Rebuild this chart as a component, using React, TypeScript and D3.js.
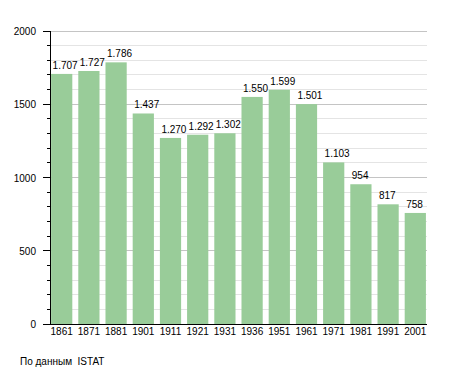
import React, { useRef, useEffect } from "react";
import * as d3 from "d3";

const years = ["1861", "1871", "1881", "1901", "1911", "1921", "1931", "1936", "1951", "1961", "1971", "1981", "1991", "2001"];
const population = [1707, 1727, 1786, 1437, 1270, 1292, 1302, 1550, 1599, 1501, 1103, 954, 817, 758];
const yTicks = [0, 500, 1000, 1500, 2000];
const sourceNote = "По данным  ISTAT";

const App: React.FC = () => {
  const svgRef = useRef<SVGSVGElement | null>(null);

  useEffect(() => {
    if (!svgRef.current) return;
    const svg = d3.select(svgRef.current);
    svg.selectAll("*").remove();

    const left = 50;
    const right = 427;
    const top = 31;
    const bottom = 324;
    const font = "Liberation Sans, Arial, sans-serif";
    const fs = 10;

    const x = d3
      .scaleBand<string>()
      .domain(years)
      .range([left, right])
      .paddingInner(0.22)
      .paddingOuter(0.04);
    const y = d3.scaleLinear().domain([0, 2000]).range([bottom, top]);

    // gridlines every 100, darker at 500
    const minor = d3.range(100, 2001, 100);
    svg
      .append("g")
      .selectAll("line")
      .data(minor)
      .enter()
      .append("line")
      .attr("x1", left)
      .attr("x2", right)
      .attr("y1", (d) => y(d))
      .attr("y2", (d) => y(d))
      .attr("stroke", (d) => (d % 500 === 0 ? "#c4c4c4" : "#e4e4e4"))
      .attr("stroke-width", 1)
      .attr("shape-rendering", "crispEdges");

    // bars
    svg
      .append("g")
      .selectAll("rect")
      .data(population)
      .enter()
      .append("rect")
      .attr("x", (d, i) => x(years[i]) as number)
      .attr("y", (d) => y(d))
      .attr("width", x.bandwidth())
      .attr("height", (d) => bottom - y(d))
      .attr("fill", "#99cc99");

    // value labels
    const fmt = d3.formatLocale({ decimal: ",", thousands: ".", grouping: [3], currency: ["", "€"] }).format(",d");
    svg
      .append("g")
      .selectAll("text")
      .data(population)
      .enter()
      .append("text")
      .attr("x", (d, i) => (x(years[i]) as number) + 1.5)
      .attr("y", (d) => y(d) - 5)
      .attr("font-family", font)
      .attr("font-size", fs)
      .attr("fill", "#000")
      .text((d) => fmt(d));

    // y axis
    svg
      .append("line")
      .attr("x1", left)
      .attr("x2", left)
      .attr("y1", top)
      .attr("y2", bottom)
      .attr("stroke", "#000")
      .attr("shape-rendering", "crispEdges");

    svg
      .append("g")
      .selectAll("line")
      .data(d3.range(0, 2001, 100))
      .enter()
      .append("line")
      .attr("x1", (d) => (d % 500 === 0 ? left - 7 : left - 3))
      .attr("x2", left)
      .attr("y1", (d) => y(d))
      .attr("y2", (d) => y(d))
      .attr("stroke", "#000")
      .attr("shape-rendering", "crispEdges");

    svg
      .append("g")
      .selectAll("text")
      .data(yTicks)
      .enter()
      .append("text")
      .attr("x", 36)
      .attr("y", (d) => y(d) + 4)
      .attr("text-anchor", "end")
      .attr("font-family", font)
      .attr("font-size", fs)
      .text((d) => String(d));

    // x axis
    svg
      .append("line")
      .attr("x1", left)
      .attr("x2", right)
      .attr("y1", bottom)
      .attr("y2", bottom)
      .attr("stroke", "#000")
      .attr("shape-rendering", "crispEdges");

    svg
      .append("g")
      .selectAll("text")
      .data(years)
      .enter()
      .append("text")
      .attr("x", (d) => (x(d) as number) + x.bandwidth() / 2)
      .attr("y", bottom + 11)
      .attr("text-anchor", "middle")
      .attr("font-family", font)
      .attr("font-size", fs)
      .text((d) => d);

    svg
      .append("text")
      .attr("x", 20)
      .attr("y", 365)
      .attr("font-family", font)
      .attr("font-size", fs)
      .attr("xml:space", "preserve")
      .style("white-space", "pre")
      .text(sourceNote);
  }, []);

  return (
    <svg
      ref={svgRef}
      width={455}
      height={373}
      style={{ position: "absolute", left: 0, top: 0, background: "#fff" }}
    ></svg>
  );
};

export default App;
